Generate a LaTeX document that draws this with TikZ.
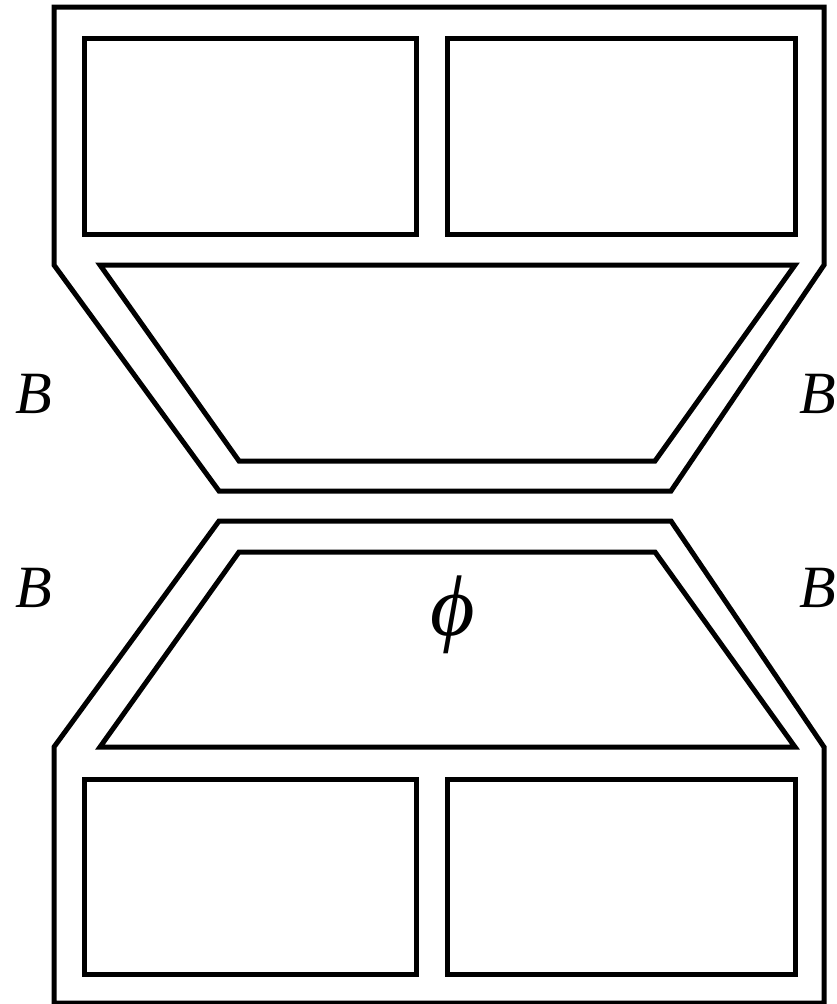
\documentclass[tikz,border=0pt]{standalone}
\usepackage{fontspec}
\setmainfont{Liberation Serif}
\begin{document}
\begin{tikzpicture}[x=1pt,y=-1pt,
  frame/.style={draw=black,line width=5pt,line join=miter},
  lab/.style={font=\fontsize{60}{60}\selectfont\itshape,inner sep=0pt,anchor=base}]
\useasboundingbox (0,0) rectangle (836,1004);
% upper outer frame
\draw[frame] (54,7) -- (824,7) -- (824,265) -- (671,491) -- (219,491) -- (54,265) -- cycle;
\draw[frame] (84,38) rectangle (416,234);
\draw[frame] (447,38) rectangle (795,234);
\draw[frame] (100,265) -- (795,265) -- (655,461) -- (239,461) -- cycle;
% lower outer frame
\draw[frame] (54,1003) -- (824,1003) -- (824,747) -- (671,521) -- (219,521) -- (54,747) -- cycle;
\draw[frame] (84,779) rectangle (416,974);
\draw[frame] (447,779) rectangle (795,974);
\draw[frame] (100,747) -- (795,747) -- (655,552) -- (239,552) -- cycle;
% labels
\node[lab] (bl1) at (34,413) {B};
\node[lab] (bl2) at (34,607) {B};
\node[lab] (br1) at (818,413) {B};
\node[lab] (br2) at (818,607) {B};
\node[lab,font=\fontsize{86}{86}\selectfont\itshape] (phi) at (453,635) {ϕ};
\end{tikzpicture}
\end{document}
